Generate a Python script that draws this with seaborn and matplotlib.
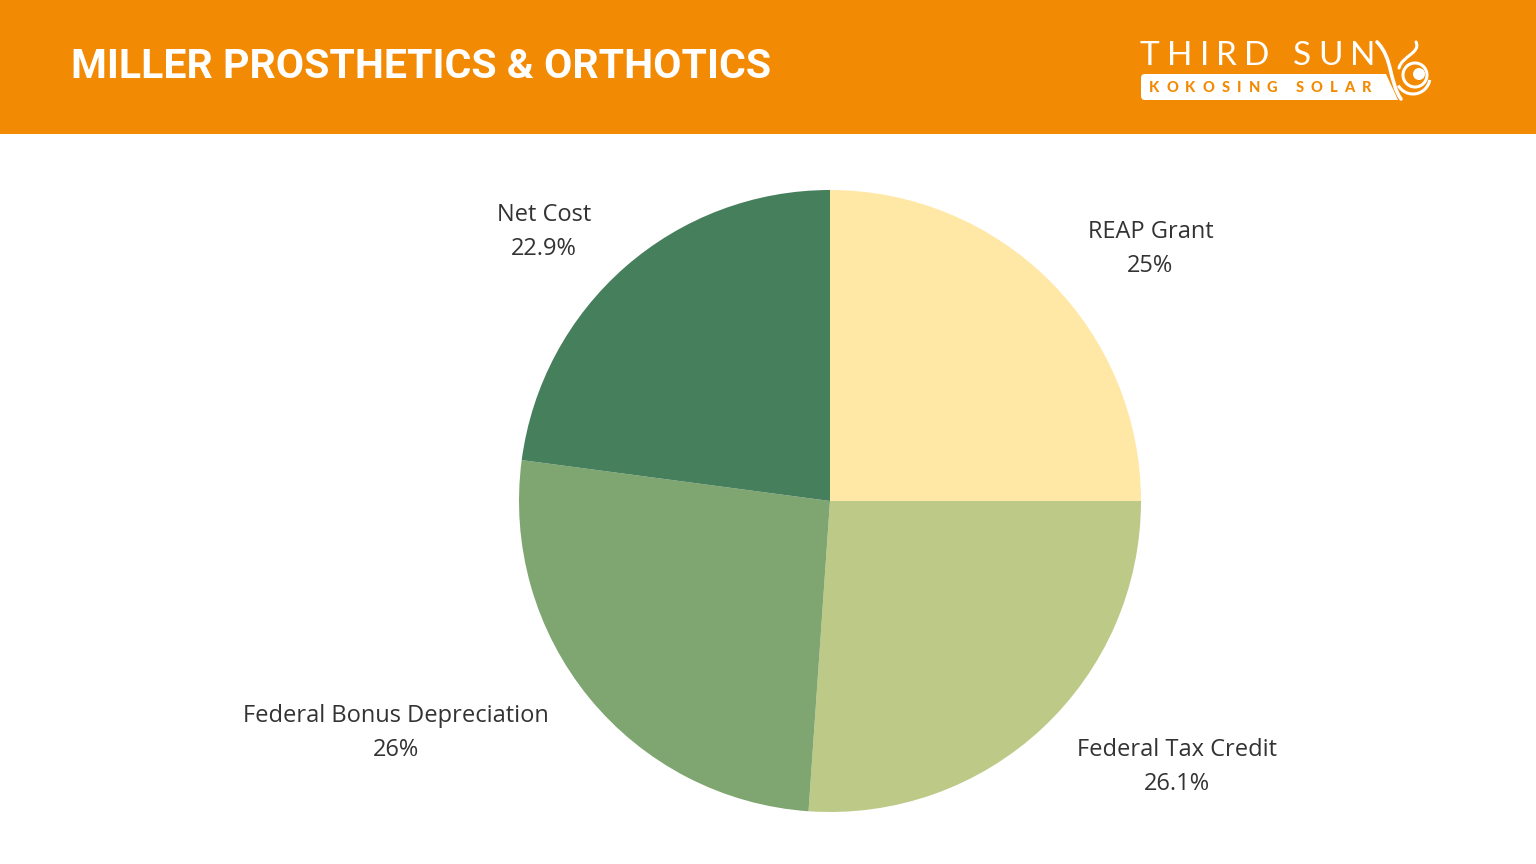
import matplotlib
matplotlib.use("Agg")
import matplotlib.pyplot as plt
import seaborn as sns
import numpy as np
from matplotlib.patches import Rectangle, Arc, Circle, PathPatch, Polygon, FancyBboxPatch
from matplotlib.path import Path

labels = ["REAP Grant", "Federal Tax Credit", "Federal Bonus Depreciation", "Net Cost"]
values = [25.0, 26.1, 26.0, 22.9]
pct_text = ["25%", "26.1%", "26%", "22.9%"]
colors = ["#FFE8A6", "#BDC987", "#7FA670", "#467F5C"]

title = "MILLER PROSTHETICS & ORTHOTICS"
ORANGE = "#F28A03"

sns.set_theme(style="white")
plt.rcParams["font.family"] = ["Open Sans", "DejaVu Sans"]

W, H = 1536, 864
fig = plt.figure(figsize=(W / 100, H / 100), dpi=100)
fig.patch.set_facecolor("white")

# header band
bg = fig.add_axes([0, 0, 1, 1])
bg.set_xlim(0, W)
bg.set_ylim(H, 0)
bg.axis("off")
bg.add_patch(Rectangle((0, 0), W, 134, color=ORANGE, lw=0))
bg.text(71, 67, title, color="white", fontsize=29.5, fontweight="bold",
        family=["Roboto", "DejaVu Sans"], va="center", ha="left")

renderer = fig.canvas.get_renderer()


def tracked(text, x0, x1, y, **kw):
    # lay letters out with equal gaps so the word spans x0..x1
    objs = [bg.text(0, y, ch, ha="left", va="center", **kw) for ch in text]
    widths = [o.get_window_extent(renderer).width for o in objs]
    gap = (x1 - x0 - sum(widths)) / (len(text) - 1)
    x = x0
    for o, w in zip(objs, widths):
        o.set_x(x)
        x += w + gap


# logo
tracked("THIRD SUN", 1140, 1375, 56, color="white", fontsize=24,
        family=["Lato", "DejaVu Sans"])
bg.add_patch(FancyBboxPatch((1141, 74), 240, 26, boxstyle="round,pad=0,rounding_size=4",
                            color="white", lw=0))
bg.add_patch(Polygon([(1370, 74), (1386, 74), (1398, 100), (1370, 100)],
                     closed=True, color="white", lw=0))
tracked("KOKOSING SOLAR", 1149, 1371, 87.5, color=ORANGE, fontsize=10.5,
        fontweight="black", family=["Lato", "DejaVu Sans"])
swoosh = Path([(1377, 42), (1393, 58), (1389, 82), (1401, 99)],
              [Path.MOVETO, Path.CURVE4, Path.CURVE4, Path.CURVE4])
bg.add_patch(PathPatch(swoosh, fill=False, ec="white", lw=2.6, capstyle="round"))
flame = Path([(1416, 42), (1421, 53), (1402, 56), (1399, 68)],
             [Path.MOVETO, Path.CURVE4, Path.CURVE4, Path.CURVE4])
bg.add_patch(PathPatch(flame, fill=False, ec="white", lw=2.2, capstyle="round"))
bg.add_patch(Circle((1415, 75), 12, fill=False, ec="white", lw=2.2))
bg.add_patch(Circle((1419, 74), 6, color="white", lw=0))
bg.add_patch(Arc((1413, 77), 34, 34, theta1=10, theta2=150, color="white", lw=2.2))

# pie
cx, cy, r = 830, 501, 311
ax = fig.add_axes([(cx - r) / W, (H - cy - r) / H, 2 * r / W, 2 * r / H])
wedges, _ = ax.pie(values, colors=colors, startangle=90, counterclock=False,
                   radius=1, wedgeprops=dict(linewidth=0))
ax.set_xlim(-1, 1)
ax.set_ylim(-1, 1)
ax.set_aspect("equal")
ax.axis("off")

# label placement (pie-axis units)
label_pos = [(1.03, 0.81), (1.116, -0.856), (-1.395, -0.745), (-0.92, 0.865)]
for name, pct, (lx, ly) in zip(labels, pct_text, label_pos):
    ax.text(lx, ly, name + "\n" + pct, ha="center", va="center", fontsize=17,
            color="#333333", linespacing=1.55, clip_on=False)

fig.savefig("out.png", dpi=100)
